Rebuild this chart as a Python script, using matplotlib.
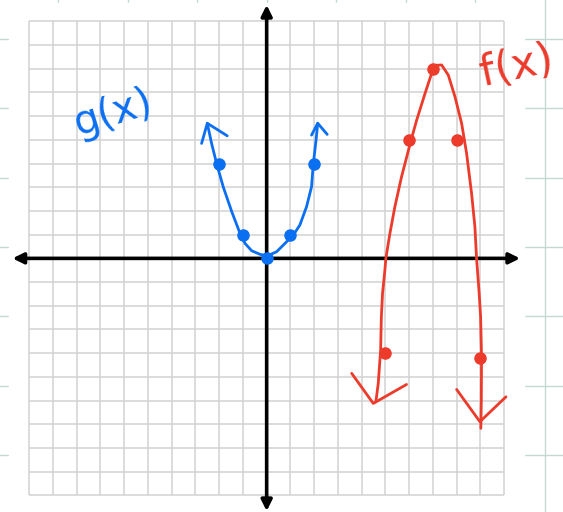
import matplotlib.pyplot as plt
import numpy as np

# points plotted on the graph paper
g_x = [-2, -1, 0, 1, 2]
g_y = [4, 1, 0, 1, 4]
f_x = [5, 6, 7, 8, 9]
f_y = [-4, 5, 8, 5, -4.2]

# hand drawn strokes
g_curve_x = [-2.50, -2.32, -2.11, -1.83, -1.47, -1.12, -0.91, -0.63, -0.28, 0.04,
             0.42, 0.77, 1.12, 1.40, 1.68, 1.89, 1.96, 2.08, 2.15]
g_curve_y = [5.70, 4.85, 4.01, 3.02, 1.97, 1.05, 0.63, 0.32, 0.17, 0.11,
             0.28, 0.63, 0.98, 1.41, 2.18, 3.02, 3.94, 4.99, 5.70]
g_head_l_x = [-2.74, -2.50, -1.66]
g_head_l_y = [4.85, 5.70, 5.17]
g_head_r_x = [1.89, 2.15, 2.55]
g_head_r_y = [5.20, 5.70, 5.23]

f_curve_x = [4.60, 4.70, 4.80, 4.83, 4.88, 4.98, 5.02, 5.19, 5.40, 5.68, 6.08, 6.32, 6.67,
             6.95, 7.09, 7.37, 7.65, 7.93, 8.21, 8.42, 8.63, 8.77, 8.84, 8.95, 9.01,
             9.05, 9.04, 9.02]
f_curve_y = [-6.05, -5.27, -3.87, -2.46, -1.48, -0.49, 0.0, 1.05, 2.18, 3.44, 4.98, 5.84, 6.96,
             7.81, 8.14, 8.16, 7.73, 6.82, 5.70, 4.43, 2.74, 1.33, 0.0, -1.48, -2.46,
             -4.15, -5.98, -7.17]
f_head_l_x = [3.58, 4.49, 5.89]
f_head_l_y = [-4.85, -6.12, -5.32]
f_head_r_x = [8.00, 8.98, 10.08]
f_head_r_y = [-5.53, -6.89, -5.84]

blue = "#0b6ff2"
red = "#ec3a2b"

fig = plt.figure(figsize=(5.63, 5.12), dpi=100)
ax = fig.add_axes([0, 0, 1, 1])
ax.set_xlim(-11.23, 12.48)
ax.set_ylim(-10.70, 10.90)
ax.axis("off")

# notebook page lines behind the white sheet
page_step = 2.93
for k in range(-4, 5):
    ax.axvline(k * page_step, color="#c3d9d2", lw=1, zorder=0)
    ax.axhline(0.48 + k * page_step, color="#c3d9d2", lw=1, zorder=0)
ax.fill_between([-10.85, 10.84], -10.8, 10.77, color="white", zorder=0.5)

# graph paper
ticks = np.arange(-10, 11)
ax.vlines(ticks, -10, 10, color="#d2d2d2", lw=1.1, zorder=1)
ax.hlines(ticks, -10, 10, color="#d2d2d2", lw=1.1, zorder=1)

# axes with arrows
arrow = dict(arrowstyle="<|-|>", color="black", lw=2.6, mutation_scale=16, shrinkA=0, shrinkB=0)
ax.annotate("", xy=(-10.70, 0), xytext=(10.67, 0), arrowprops=arrow, zorder=2)
ax.annotate("", xy=(0, 10.69), xytext=(0, -10.66), arrowprops=arrow, zorder=2)

# g(x)
ax.plot(g_curve_x, g_curve_y, color=blue, lw=2, solid_capstyle="round", solid_joinstyle="round", zorder=3)
ax.plot(g_head_l_x, g_head_l_y, color=blue, lw=2, solid_capstyle="round", zorder=3)
ax.plot(g_head_r_x, g_head_r_y, color=blue, lw=2, solid_capstyle="round", zorder=3)
ax.plot(g_x, g_y, "o", color=blue, ms=8, zorder=4)
ax.text(-6.45, 6.15, "g(x)", color=blue, fontsize=29, rotation=17, ha="center", va="center")

# f(x)
ax.plot(f_curve_x, f_curve_y, color=red, lw=2, solid_capstyle="round", solid_joinstyle="round", zorder=3)
ax.plot(f_head_l_x, f_head_l_y, color=red, lw=2, solid_capstyle="round", zorder=3)
ax.plot(f_head_r_x, f_head_r_y, color=red, lw=2, solid_capstyle="round", zorder=3)
ax.plot(f_x, f_y, "o", color=red, ms=8, zorder=4)
ax.text(10.55, 8.1, "f(x)", color=red, fontsize=31, rotation=12, ha="center", va="center")

fig.savefig("out.png", dpi=100)
